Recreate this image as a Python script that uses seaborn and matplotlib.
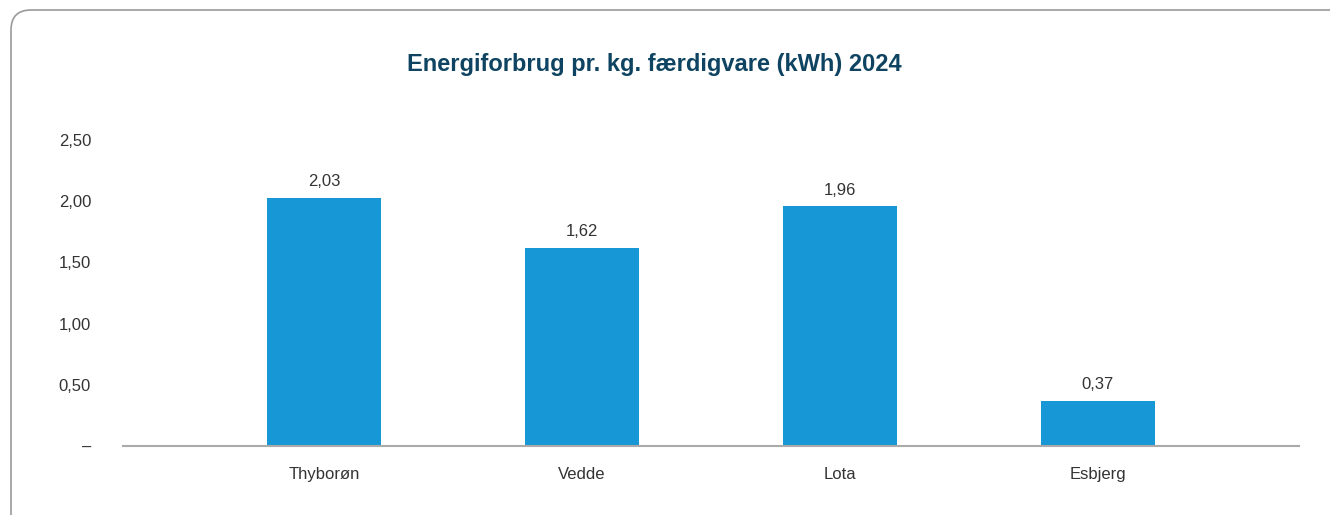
import matplotlib
matplotlib.use("Agg")
import matplotlib.pyplot as plt
import seaborn as sns
import pandas as pd
from matplotlib.patches import FancyBboxPatch

categories = ["Thyborøn", "Vedde", "Lota", "Esbjerg"]
values = [2.03, 1.62, 1.96, 0.37]
ytick_values = [0, 0.5, 1.0, 1.5, 2.0, 2.5]
ytick_labels = ["–", "0,50", "1,00", "1,50", "2,00", "2,50"]
title = "Energiforbrug pr. kg. færdigvare (kWh) 2024"

sns.set_theme(style="white")
plt.rcParams['font.family'] = ['Liberation Sans', 'DejaVu Sans']

W, H = 1330, 515
fig = plt.figure(figsize=(W / 100, H / 100), dpi=100)

# rounded frame (inches, figure dpi 100)
frame = FancyBboxPatch((0.11, -0.4), (W + 40 - 11) / 100, (H + 40 - 10) / 100,
                       boxstyle="round,pad=0,rounding_size=0.2",
                       transform=fig.dpi_scale_trans, facecolor="none",
                       edgecolor="#9a9a9a", linewidth=1.2, zorder=-1)
fig.patches.append(frame)

ax = fig.add_axes([123 / W, 1 - 446 / H, (1299 - 123) / W, (446 - 140) / H])
ax.set_facecolor("none")

df = pd.DataFrame({"cat": categories, "val": values})
sns.barplot(data=df, x="cat", y="val", ax=ax, color="#1797d6", width=0.44,
            saturation=1, linewidth=0)

ax.set_xlim(-0.78, 3.78)
ax.set_ylim(0, 2.5)
ax.set_yticks(ytick_values)
ax.set_yticklabels(ytick_labels)
ax.set_xlabel("")
ax.set_ylabel("")
for s in ["top", "right", "left"]:
    ax.spines[s].set_visible(False)
ax.spines["bottom"].set_color("#aaaaaa")
ax.spines["bottom"].set_linewidth(1.5)
ax.tick_params(axis="y", length=0, pad=23, labelsize=12, labelcolor="#333333")
ax.tick_params(axis="x", length=0, pad=15, labelsize=12, labelcolor="#333333")

for i, v in enumerate(values):
    ax.annotate(f"{v:.2f}".replace(".", ","), (i, v), xytext=(0, 6),
                textcoords="offset points", ha="center", va="bottom",
                fontsize=12, color="#333333")

fig.text(654 / W, 1 - 65 / H, title, ha="center", va="center",
         fontsize=17, fontweight="bold", color="#0e4461")

fig.savefig("out.png", dpi=100)
